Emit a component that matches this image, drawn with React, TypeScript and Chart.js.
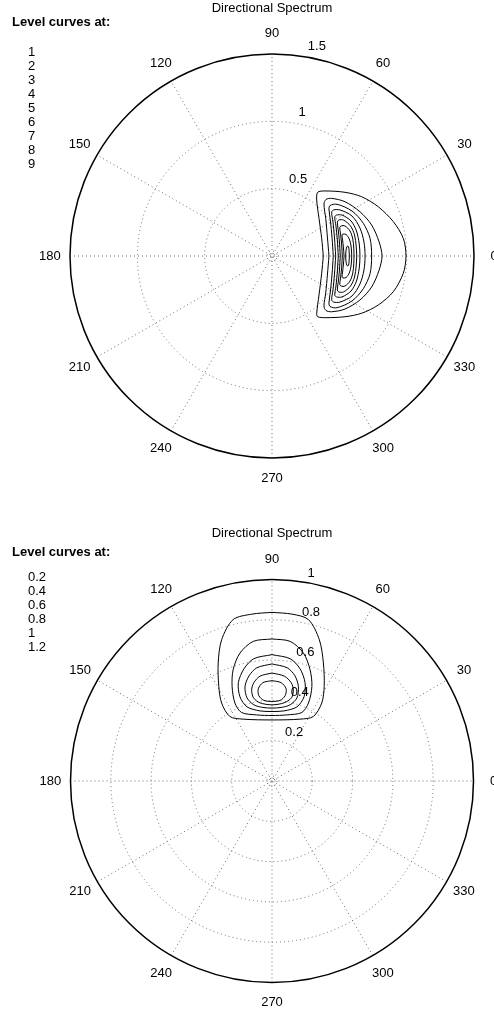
import React, { useEffect, useRef } from "react";
import { Chart, registerables } from "chart.js";

Chart.register(...registerables);

// ---------- data ----------
const chartTitle = "Directional Spectrum";
const levelHeader = "Level curves at:";
const angleTicks = [0, 30, 60, 90, 120, 150, 180, 210, 240, 270, 300, 330];

// top chart
const topRmax = 1.5;
const topRingTicks = [0.5, 1, 1.5];
const topLevelLabels = ["1", "2", "3", "4", "5", "6", "7", "8", "9"];
const topContour1 = [[0.381,0],[0.369,0.131],[0.349,0.280],[0.332,0.416],[0.339,0.473],[0.394,0.483],[0.542,0.473],[0.666,0.440],[0.789,0.366],[0.901,0.255],[0.975,0.131],[0.995,0],[0.975,-0.128],[0.901,-0.265],[0.789,-0.364],[0.666,-0.425],[0.542,-0.451],[0.394,-0.458],[0.339,-0.451],[0.332,-0.425],[0.349,-0.290],[0.369,-0.128],[0.381,0]];
const topContour2 = [[0.423,0],[0.412,0.134],[0.399,0.280],[0.386,0.386],[0.401,0.420],[0.443,0.428],[0.542,0.403],[0.653,0.329],[0.740,0.230],[0.795,0.106],[0.817,0],[0.795,-0.106],[0.740,-0.230],[0.653,-0.327],[0.542,-0.394],[0.443,-0.414],[0.401,-0.405],[0.386,-0.371],[0.399,-0.275],[0.412,-0.134],[0.423,0]];
const topContour3 = [[0.455,0],[0.446,0.134],[0.434,0.260],[0.423,0.349],[0.431,0.375],[0.483,0.384],[0.594,0.334],[0.678,0.243],[0.728,0.131],[0.740,0],[0.728,-0.131],[0.678,-0.243],[0.594,-0.334],[0.483,-0.384],[0.431,-0.375],[0.423,-0.349],[0.434,-0.260],[0.446,-0.134],[0.455,0]];
const topContour4 = [[0.473,0],[0.464,0.134],[0.453,0.252],[0.443,0.325],[0.457,0.342],[0.505,0.342],[0.594,0.297],[0.653,0.208],[0.683,0.104],[0.691,0],[0.683,-0.104],[0.653,-0.208],[0.594,-0.297],[0.505,-0.342],[0.457,-0.342],[0.443,-0.325],[0.453,-0.252],[0.464,-0.134],[0.473,0]];
const topContour5 = [[0.492,0],[0.485,0.119],[0.475,0.223],[0.466,0.290],[0.479,0.304],[0.520,0.304],[0.587,0.260],[0.627,0.186],[0.648,0.089],[0.653,0],[0.648,-0.089],[0.627,-0.186],[0.587,-0.260],[0.520,-0.304],[0.479,-0.304],[0.466,-0.290],[0.475,-0.223],[0.485,-0.119],[0.492,0]];
const topContour6 = [[0.507,0],[0.501,0.104],[0.492,0.193],[0.485,0.252],[0.496,0.267],[0.531,0.267],[0.583,0.223],[0.613,0.156],[0.625,0.074],[0.629,0],[0.625,-0.074],[0.613,-0.156],[0.583,-0.223],[0.531,-0.267],[0.496,-0.267],[0.485,-0.252],[0.492,-0.193],[0.501,-0.104],[0.507,0]];
const topContour7 = [[0.522,0],[0.517,0.089],[0.509,0.163],[0.503,0.212],[0.512,0.223],[0.542,0.223],[0.579,0.186],[0.600,0.126],[0.607,0.059],[0.609,0],[0.607,-0.059],[0.600,-0.126],[0.579,-0.186],[0.542,-0.223],[0.512,-0.223],[0.503,-0.212],[0.509,-0.163],[0.517,-0.089],[0.522,0]];
const topContour8 = [[0.535,0],[0.530,0.067],[0.524,0.119],[0.520,0.156],[0.527,0.163],[0.550,0.160],[0.574,0.126],[0.587,0.074],[0.592,0],[0.587,-0.074],[0.574,-0.126],[0.550,-0.160],[0.527,-0.163],[0.520,-0.156],[0.524,-0.119],[0.530,-0.067],[0.535,0]];
const topContour9 = [[0.547,0],[0.550,0.045],[0.557,0.071],[0.567,0.071],[0.572,0.045],[0.574,0],[0.572,-0.045],[0.567,-0.071],[0.557,-0.071],[0.550,-0.045],[0.547,0]];

// bottom chart
const bottomRmax = 1;
const bottomRingTicks = [0.2, 0.4, 0.6, 0.8, 1];
const bottomLevelLabels = ["0.2", "0.4", "0.6", "0.8", "1", "1.2"];
const bottomContour1 = [[0,0.837],[-0.100,0.828],[-0.193,0.801],[-0.250,0.701],[-0.267,0.586],[-0.264,0.469],[-0.250,0.387],[-0.209,0.320],[-0.143,0.307],[0,0.303],[0.139,0.307],[0.205,0.320],[0.247,0.387],[0.259,0.469],[0.255,0.586],[0.235,0.701],[0.181,0.801],[0.100,0.828],[0,0.837]];
const bottomContour2 = [[0,0.705],[-0.093,0.693],[-0.159,0.635],[-0.193,0.552],[-0.198,0.469],[-0.184,0.387],[-0.151,0.340],[-0.076,0.328],[0,0.325],[0.073,0.328],[0.148,0.340],[0.181,0.387],[0.198,0.469],[0.189,0.552],[0.156,0.635],[0.090,0.693],[0,0.705]];
const bottomContour3 = [[0,0.627],[-0.090,0.607],[-0.139,0.557],[-0.167,0.488],[-0.159,0.418],[-0.124,0.368],[-0.060,0.348],[0,0.345],[0.060,0.348],[0.124,0.368],[0.159,0.418],[0.164,0.488],[0.139,0.557],[0.090,0.607],[0,0.627]];
const bottomContour4 = [[0,0.581],[-0.075,0.562],[-0.114,0.522],[-0.134,0.468],[-0.124,0.413],[-0.090,0.378],[-0.045,0.365],[0,0.362],[0.045,0.365],[0.090,0.378],[0.124,0.413],[0.131,0.468],[0.114,0.522],[0.075,0.562],[0,0.581]];
const bottomContour5 = [[0,0.536],[-0.060,0.520],[-0.090,0.488],[-0.101,0.453],[-0.092,0.413],[-0.060,0.388],[0,0.378],[0.060,0.388],[0.097,0.413],[0.106,0.453],[0.095,0.488],[0.062,0.520],[0,0.536]];
const bottomContour6 = [[0,0.498],[-0.045,0.488],[-0.068,0.458],[-0.065,0.423],[-0.040,0.400],[0,0.395],[0.040,0.400],[0.065,0.423],[0.070,0.458],[0.045,0.488],[0,0.498]];

const topContours = [topContour1, topContour2, topContour3, topContour4, topContour5, topContour6, topContour7, topContour8, topContour9];
const bottomContours = [bottomContour1, bottomContour2, bottomContour3, bottomContour4, bottomContour5, bottomContour6];

// ---------- layout ----------
const CANVAS_W = 494;
const CANVAS_H = 507;
const FONT = "'Liberation Sans', Arial, Helvetica, sans-serif";

const polarDecor = {
  id: "polarDecor",
  beforeDatasetsDraw(chart: any, _args: any, opts: any) {
    const { ctx } = chart;
    const x = chart.scales.x;
    const y = chart.scales.y;
    const cx = x.getPixelForValue(0);
    const cy = y.getPixelForValue(0);
    const ppu = x.getPixelForValue(1) - cx;
    const R = opts.rmax * ppu;
    ctx.save();
    ctx.strokeStyle = "#6e6e6e";
    ctx.lineWidth = 1;
    ctx.setLineDash([1, 3]);
    // dotted rings
    opts.rings.forEach((r: number) => {
      if (Math.abs(r - opts.rmax) < 1e-9) return;
      ctx.beginPath();
      ctx.arc(cx, cy, r * ppu, 0, Math.PI * 2);
      ctx.stroke();
    });
    // tiny ring at origin
    ctx.beginPath();
    ctx.arc(cx, cy, 5, 0, Math.PI * 2);
    ctx.stroke();
    // spokes
    for (let a = 0; a < 180; a += 30) {
      const t = (a * Math.PI) / 180;
      ctx.beginPath();
      ctx.moveTo(cx - R * Math.cos(t), cy + R * Math.sin(t));
      ctx.lineTo(cx + R * Math.cos(t), cy - R * Math.sin(t));
      ctx.stroke();
    }
    // outer circle
    ctx.setLineDash([]);
    ctx.strokeStyle = "#000";
    ctx.lineWidth = 1.5;
    ctx.beginPath();
    ctx.arc(cx, cy, R, 0, Math.PI * 2);
    ctx.stroke();
    ctx.restore();
  },
  afterDraw(chart: any, _args: any, opts: any) {
    const { ctx } = chart;
    const x = chart.scales.x;
    const y = chart.scales.y;
    const cx = x.getPixelForValue(0);
    const cy = y.getPixelForValue(0);
    const ppu = x.getPixelForValue(1) - cx;
    const R = opts.rmax * ppu;
    ctx.save();
    ctx.fillStyle = "#000";
    ctx.font = `13px ${FONT}`;
    // angle labels
    ctx.textAlign = "center";
    ctx.textBaseline = "middle";
    opts.angles.forEach((a: number) => {
      const t = (a * Math.PI) / 180;
      ctx.fillText(String(a), cx + 1.1 * R * Math.cos(t), cy - 1.1 * R * Math.sin(t));
    });
    // radial labels
    const rinc = opts.rings[1] - opts.rings[0];
    const t82 = (82 * Math.PI) / 180;
    ctx.textAlign = "left";
    ctx.textBaseline = "bottom";
    opts.rings.forEach((r: number) => {
      const rr = (r + rinc / 20) * ppu;
      ctx.fillText("  " + String(r), cx + rr * Math.cos(t82), cy - rr * Math.sin(t82));
    });
    // title
    ctx.textAlign = "center";
    ctx.textBaseline = "middle";
    ctx.fillText(opts.title, cx, cy - 247.5);
    // level header
    ctx.textAlign = "left";
    ctx.font = `bold 13px ${FONT}`;
    ctx.fillText(opts.header, 12, cy + opts.headerDy);
    ctx.font = `13px ${FONT}`;
    opts.levels.forEach((lab: string, i: number) => {
      ctx.fillText(lab, 28, cy - 203.7 + i * 14.05);
    });
    ctx.restore();
  },
};

type Props = {
  contours: number[][][];
  rmax: number;
  rings: number[];
  levels: string[];
  centerX: number;
  centerY: number;
  radiusPx: number;
  headerDy: number;
};

function PolarContour({ contours, rmax, rings, levels, centerX, centerY, radiusPx, headerDy }: Props) {
  const ref = useRef<HTMLCanvasElement | null>(null);
  useEffect(() => {
    if (!ref.current) return;
    const ppu = radiusPx / rmax;
    const chart = new Chart(ref.current, {
      type: "scatter",
      data: {
        datasets: contours.map((c) => ({
          data: c.map(([px, py]) => ({ x: px, y: py })),
          showLine: true,
          borderColor: "#000",
          borderWidth: 1,
          pointRadius: 0,
          pointHoverRadius: 0,
          tension: 0.3,
          fill: false,
        })),
      },
      options: {
        responsive: false,
        animation: false,
        events: [],
        layout: { padding: 0, autoPadding: false },
        scales: {
          x: { type: "linear", display: false, min: -centerX / ppu, max: (CANVAS_W - centerX) / ppu },
          y: { type: "linear", display: false, min: -(CANVAS_H - centerY) / ppu, max: centerY / ppu },
        },
        plugins: {
          legend: { display: false },
          tooltip: { enabled: false },
          polarDecor: {
            rmax,
            rings,
            angles: angleTicks,
            levels,
            title: chartTitle,
            header: levelHeader,
            headerDy,
          },
        } as any,
      } as any,
      plugins: [polarDecor],
    });
    return () => chart.destroy();
  }, []);
  return <canvas ref={ref} width={CANVAS_W} height={CANVAS_H} style={{ display: "block", width: CANVAS_W, height: CANVAS_H }} />;
}

export default function App() {
  return (
    <div style={{ position: "absolute", left: 0, top: 0, width: CANVAS_W, height: CANVAS_H * 2, background: "#fff" }}>
      <PolarContour contours={topContours} rmax={topRmax} rings={topRingTicks} levels={topLevelLabels} centerX={272} centerY={256} radiusPx={202} headerDy={-234} />
      <PolarContour contours={bottomContours} rmax={bottomRmax} rings={bottomRingTicks} levels={bottomLevelLabels} centerX={272} centerY={274} radiusPx={201.5} headerDy={-229} />
    </div>
  );
}
